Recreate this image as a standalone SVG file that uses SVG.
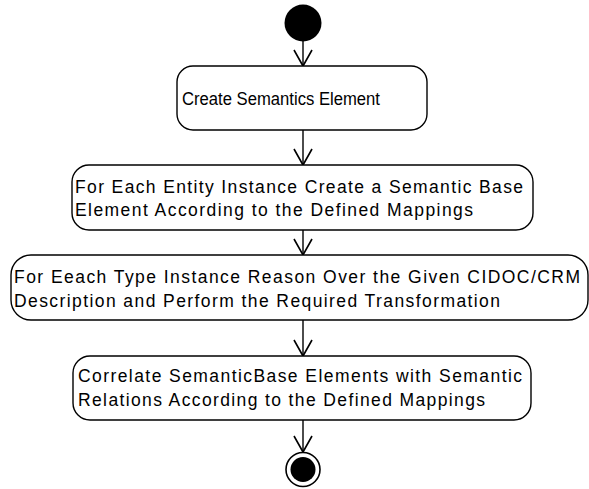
<svg xmlns="http://www.w3.org/2000/svg" width="589" height="489" viewBox="0 0 589 489">
<style>
.node rect{fill:#fff;stroke:#000;stroke-width:1.4}
.lbl{font-family:"Liberation Sans",Arial,sans-serif;font-size:17.5px;fill:#000}
.edge{stroke:#000;stroke-width:1.4;fill:none;marker-end:url(#arr)}
</style>
<defs>
<marker id="arr" markerUnits="userSpaceOnUse" markerWidth="20" markerHeight="22" refX="17" refY="10" orient="auto" viewBox="0 0 20 22">
<path d="M1,1 L17,10 L1,19" fill="none" stroke="#000" stroke-width="1.6"/>
</marker>
</defs>
<rect width="589" height="489" fill="#fff"/>
<g id="connectors">
<line class="edge" x1="303" y1="41" x2="303" y2="66"/>
<line class="edge" x1="303" y1="130" x2="303" y2="165"/>
<line class="edge" x1="303" y1="230" x2="303" y2="255"/>
<line class="edge" x1="303" y1="320" x2="303" y2="356"/>
<line class="edge" x1="303" y1="420" x2="303" y2="452"/>
</g>
<g id="start">
<circle cx="303" cy="23" r="18.5" fill="#000"/>
</g>
<g id="n1" class="node">
<rect x="177" y="66" width="250" height="64" rx="16" ry="16"/>
<text class="lbl" x="182" y="105" textLength="198" lengthAdjust="spacingAndGlyphs">Create Semantics Element</text>
</g>
<g id="n2" class="node">
<rect x="72" y="165" width="461" height="65" rx="17" ry="17"/>
<text class="lbl" x="75" y="193" textLength="448" lengthAdjust="spacing">For Each Entity Instance Create a Semantic Base</text>
<text class="lbl" x="75" y="216" textLength="398" lengthAdjust="spacing">Element According to the Defined Mappings</text>
</g>
<g id="n3" class="node">
<rect x="11" y="255" width="577" height="65" rx="20" ry="20"/>
<text class="lbl" x="14" y="283" textLength="566" lengthAdjust="spacing">For Eeach Type Instance Reason Over the Given CIDOC/CRM</text>
<text class="lbl" x="14" y="307" textLength="486" lengthAdjust="spacing">Description and Perform the Required Transformation</text>
</g>
<g id="n4" class="node">
<rect x="73" y="356" width="458" height="64" rx="17" ry="17"/>
<text class="lbl" x="78" y="382" textLength="444" lengthAdjust="spacing">Correlate SemanticBase Elements with Semantic</text>
<text class="lbl" x="78" y="406" textLength="407" lengthAdjust="spacing">Relations According to the Defined Mappings</text>
</g>
<g id="end">
<circle cx="303" cy="469.5" r="17" fill="#fff" stroke="#000" stroke-width="1.6"/>
<circle cx="303" cy="469.5" r="12.5" fill="#000"/>
</g>
</svg>
